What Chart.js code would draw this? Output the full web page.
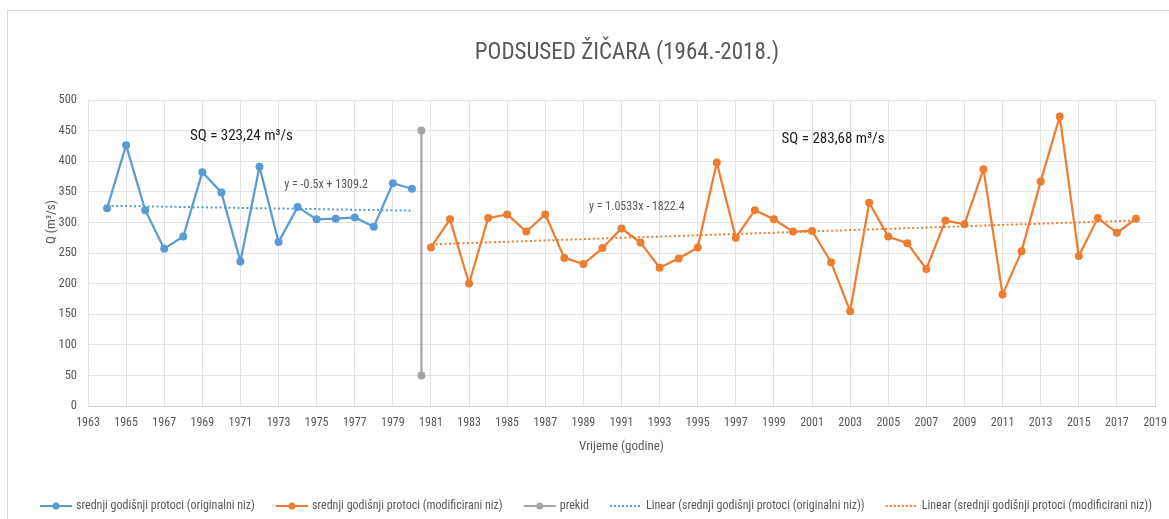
<!DOCTYPE html>
<html>
<head>
<meta charset="utf-8">
<script src="https://cdn.jsdelivr.net/npm/chart.js@4.4.1/dist/chart.umd.min.js"></script>
<style>
    html, body { margin: 0; padding: 0; background: #fff; }
    #wrap { width: 1169px; height: 519px; }
</style>
</head>
<body>
<div id="wrap"><canvas id="qChart" width="1169" height="519"></canvas></div>
<script>
// podaci - srednji godišnji protoci
const godine1 = [1964, 1965, 1966, 1967, 1968, 1969, 1970, 1971, 1972, 1973, 1974, 1975, 1976, 1977, 1978, 1979, 1980];
const protoci1 = [323, 426, 320, 257, 277, 382, 349, 236, 391, 268, 325, 305, 306, 308, 293, 364, 355];

const godine2 = [1981, 1982, 1983, 1984, 1985, 1986, 1987, 1988, 1989, 1990, 1991, 1992, 1993, 1994, 1995, 1996, 1997, 1998, 1999,
    2000, 2001, 2002, 2003, 2004, 2005, 2006, 2007, 2008, 2009, 2010, 2011, 2012, 2013, 2014, 2015, 2016, 2017, 2018];
const protoci2 = [259, 305, 200, 307, 313, 285, 313, 242, 232, 258, 290, 267, 226, 241, 259, 398, 275, 320, 305,
    285, 286, 235, 155, 332, 277, 266, 224, 303, 297, 387, 182, 253, 367, 473, 245, 307, 283, 306];

// prekid niza
const prekidGodine = [1980.5, 1980.5];
const prekidVrijednosti = [450, 50];

// linearni trendovi (krajnje tocke)
const trendGodine1 = [1964, 1980];
const trend1 = [327.2, 319.2];
const trendGodine2 = [1981, 2018];
const trend2 = [264.2, 303.2];

const naslov = "PODSUSED ŽIČARA (1964.-2018.)";
const xNaslov = "Vrijeme (godine)";
const yNaslov = "Q (m³/s)";

const FONT = '"Liberation Sans Narrow", "Arial Narrow", "Roboto Condensed", sans-serif';
const BLUE = "#5b9bd5";
const ORANGE = "#ed7d31";
const GRAY = "#a5a5a5";
const TXT = "#595959";

const toXY = (xs, ys) => xs.map((x, i) => ({ x: x, y: ys[i] }));

// tekstovi na grafu (pozicija u koordinatama podataka)
const oznake = [
    { text: "SQ = 323,24 m³/s", x: 1968.35, y: 440, size: 15, color: "#1a1a1a" },
    { text: "SQ = 283,68 m³/s", x: 1999.4, y: 436, size: 15, color: "#1a1a1a" },
    { text: "y = -0.5x + 1309.2", x: 1973.3, y: 361, size: 12, color: TXT },
    { text: "y = 1.0533x - 1822.4", x: 1989.3, y: 325, size: 12, color: TXT },
];

const legenda = [
    { text: "srednji godišnji protoci (originalni niz)", color: BLUE, dot: true },
    { text: "srednji godišnji protoci (modificirani niz)", color: ORANGE, dot: true },
    { text: "prekid", color: GRAY, dot: true },
    { text: "Linear (srednji godišnji protoci (originalni niz))", color: BLUE, dot: false },
    { text: "Linear (srednji godišnji protoci (modificirani niz))", color: ORANGE, dot: false },
];

const overlay = {
    id: "overlay",
    beforeDraw(chart) {
        const c = chart.ctx;
        c.save();
        c.strokeStyle = "#d9d9d9";
        c.lineWidth = 1;
        c.strokeRect(7.5, 10.5, 1200, 600);
        c.restore();
    },
    afterDraw(chart) {
        const c = chart.ctx;
        const a = chart.chartArea;
        const sx = chart.scales.x, sy = chart.scales.y;
        c.save();
        c.textBaseline = "middle";

        // naslov
        c.fillStyle = TXT;
        c.font = "23px " + FONT;
        c.textAlign = "center";
        c.fillText(naslov, 627, 53);

        // naslovi osi
        c.font = "13px " + FONT;
        c.fillText(xNaslov, (a.left + a.right) / 2, 447);
        c.save();
        c.translate(52, 222);
        c.rotate(-Math.PI / 2);
        c.fillText(yNaslov, 0, 0);
        c.restore();

        // oznake
        c.textAlign = "left";
        oznake.forEach((o) => {
            c.font = o.size + "px " + FONT;
            c.fillStyle = o.color;
            c.fillText(o.text, sx.getPixelForValue(o.x), sy.getPixelForValue(o.y));
        });

        // legenda
        c.font = "12px " + FONT;
        const symW = 32, symGap = 4;
        const widths = legenda.map((l) => c.measureText(l.text).width);
        const total = widths.reduce((s, w) => s + w + symW + symGap, 0);
        const gap = (1112 - total) / (legenda.length - 1);
        let x = 40;
        const y = 506;
        legenda.forEach((l, i) => {
            c.strokeStyle = l.color;
            c.fillStyle = l.color;
            if (l.dot) {
                c.lineWidth = 2;
                c.setLineDash([]);
                c.beginPath();
                c.moveTo(x, y);
                c.lineTo(x + symW, y);
                c.stroke();
                c.beginPath();
                c.arc(x + symW / 2, y, 3.5, 0, Math.PI * 2);
                c.fill();
            } else {
                c.lineWidth = 2;
                c.setLineDash([2, 2]);
                c.beginPath();
                c.moveTo(x, y);
                c.lineTo(x + symW, y);
                c.stroke();
                c.setLineDash([]);
            }
            c.fillStyle = TXT;
            c.fillText(l.text, x + symW + symGap, y);
            x += symW + symGap + widths[i] + gap;
        });
        c.restore();
    },
};

const niz = (data, color, extra) => Object.assign({
    data: data,
    borderColor: color,
    backgroundColor: color,
    borderWidth: 2.25,
    pointRadius: 4,
    pointHoverRadius: 4,
    pointBorderWidth: 0,
    tension: 0,
    fill: false,
}, extra || {});

document.addEventListener("DOMContentLoaded", () => {
    const ctx = document.getElementById("qChart").getContext("2d");
    new Chart(ctx, {
        type: "line",
        data: {
            datasets: [
                niz(toXY(trendGodine1, trend1), BLUE, { borderDash: [2, 2.5], borderWidth: 2, pointRadius: 0 }),
                niz(toXY(trendGodine2, trend2), ORANGE, { borderDash: [2, 2.5], borderWidth: 2, pointRadius: 0 }),
                niz(toXY(prekidGodine, prekidVrijednosti), GRAY),
                niz(toXY(godine1, protoci1), BLUE),
                niz(toXY(godine2, protoci2), ORANGE),
            ],
        },
        options: {
            responsive: false,
            animation: false,
            layout: { padding: { left: 8, right: 14, top: 100, bottom: 83 } },
            plugins: { legend: { display: false }, title: { display: false }, tooltip: { enabled: false } },
            scales: {
                x: {
                    type: "linear",
                    min: 1963,
                    max: 2019,
                    ticks: {
                        stepSize: 2,
                        padding: 10,
                        color: TXT,
                        font: { family: FONT, size: 12 },
                        maxRotation: 0,
                        autoSkip: false,
                        callback: (v) => String(v),
                    },
                    grid: { color: "#e3e3e3", drawTicks: false },
                    border: { color: "#d0d0d0" },
                    afterFit: (s) => {
                        s.height = 30;
                        s.paddingLeft = 0;
                        s.paddingRight = 0;
                    },
                },
                y: {
                    min: 0,
                    max: 500,
                    ticks: {
                        stepSize: 50,
                        padding: 11,
                        color: TXT,
                        font: { family: FONT, size: 12.5 },
                    },
                    grid: { color: "#e3e3e3", drawTicks: false },
                    border: { display: false },
                    afterFit: (s) => {
                        s.width = 80;
                        s.paddingTop = 0;
                        s.paddingBottom = 0;
                    },
                },
            },
        },
        plugins: [overlay],
    });
});
</script>
</body>
</html>
